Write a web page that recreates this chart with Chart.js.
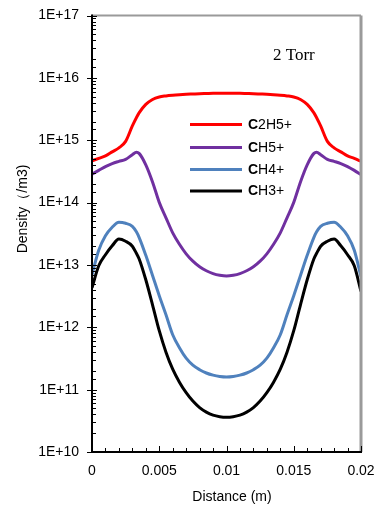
<!DOCTYPE html>
<html>
<head>
<meta charset="utf-8">
<script src="https://cdn.jsdelivr.net/npm/chart.js@4.4.1/dist/chart.umd.min.js"></script>
<style>
  html, body { margin: 0; padding: 0; background: #fff; }
  #wrap { width: 382px; height: 505px; position: relative; }
</style>
</head>
<body>
<div id="wrap"><canvas id="c"></canvas></div>
<script>
// ---- data ----
const distance = [0,0.0005,0.001,0.0015,0.002,0.0025,0.003,0.0033,0.0035,0.004,0.0045,0.005,0.0055,0.006,0.0065,0.007,0.0075,0.008,0.0085,0.009,0.0095,0.01,
  0.0105,0.011,0.0115,0.012,0.0125,0.013,0.0135,0.014,0.0145,0.015,0.0155,0.016,0.0165,0.0167,0.017,0.0175,0.018,0.0185,0.019,0.0195,0.02];

const c2h5 = [4.68e14,5.13e14,5.62e14,6.52e14,7.55e14,9.6e14,1.70e15,2.3e15,2.75e15,3.76e15,4.52e15,4.96e15,5.15e15,5.28e15,5.38e15,5.46e15,5.52e15,5.58e15,5.62e15,5.66e15,5.69e15,5.70e15,
  5.69e15,5.66e15,5.62e15,5.58e15,5.52e15,5.46e15,5.38e15,5.28e15,5.15e15,4.96e15,4.52e15,3.76e15,2.75e15,2.3e15,1.70e15,9.6e14,7.55e14,6.52e14,5.62e14,5.13e14,4.6e14];

const ch5 = [2.86e14,3.29e14,3.79e14,4.23e14,4.59e14,4.94e14,5.88e14,6.44e14,6.17e14,4.04e14,2.15e14,1.01e14,5.71e13,3.28e13,2.15e13,1.51e13,1.15e13,9.35e12,8.07e12,7.28e12,6.84e12,6.64e12,
  6.84e12,7.28e12,8.07e12,9.35e12,1.15e13,1.51e13,2.15e13,3.28e13,5.71e13,1.01e14,2.15e14,4.04e14,6.17e14,6.44e14,5.88e14,4.94e14,4.59e14,4.23e14,3.79e14,3.29e14,2.8e14];

const ch4 = [6.97e12,1.72e13,2.94e13,4.02e13,4.83e13,4.66e13,4.17e13,3.40e13,2.78e13,1.43e13,6.79e12,3.21e12,1.59e12,7.61e11,4.71e11,3.20e11,2.47e11,2.09e11,1.85e11,1.71e11,1.63e11,1.60e11,
  1.63e11,1.71e11,1.85e11,2.09e11,2.47e11,3.20e11,4.71e11,7.61e11,1.59e12,3.21e12,6.79e12,1.43e13,2.78e13,3.40e13,4.17e13,4.66e13,4.83e13,4.02e13,2.94e13,1.72e13,6.5e12];

const ch3 = [4.31e12,9.71e12,1.46e13,2.03e13,2.60e13,2.40e13,2.00e13,1.54e13,1.26e13,5.79e12,2.30e12,8.83e11,3.99e11,2.13e11,1.32e11,8.95e10,6.55e10,5.15e10,4.36e10,3.90e10,3.69e10,3.62e10,
  3.69e10,3.90e10,4.36e10,5.15e10,6.55e10,8.95e10,1.32e11,2.13e11,3.99e11,8.83e11,2.30e12,5.79e12,1.26e13,1.54e13,2.00e13,2.40e13,2.60e13,2.03e13,1.46e13,9.71e12,3.76e12];

const seriesNames = ['C2H5+', 'CH5+', 'CH4+', 'CH3+'];
const xTickLabels = ['0', '0.005', '0.01', '0.015', '0.02'];
const xTickValues = [0, 0.005, 0.01, 0.015, 0.02];
const xTitle = 'Distance (m)';
const yTitle = 'Density（/m3)';
const annotationText = '2 Torr';

// ---- styling ----
const colors = ['#FF0000', '#7030A0', '#4F81BD', '#000000'];
const FONT = "'Liberation Sans', Arial, sans-serif";

function pts(ys) { return distance.map((x, i) => ({ x: x, y: ys[i] })); }

const seriesValues = [c2h5, ch5, ch4, ch3];
const datasets = seriesValues.map((vals, i) => ({
  label: seriesNames[i],
  data: pts(vals),
  borderColor: colors[i],
  backgroundColor: colors[i],
  borderWidth: 3,
  pointRadius: 0,
  fill: false,
  cubicInterpolationMode: 'monotone'
}));

const decor = {
  id: 'decor',
  afterDatasetsDraw(chart) {
    const ctx = chart.ctx;
    const a = chart.chartArea;
    const xs = chart.scales.x, ys = chart.scales.y;
    ctx.save();
    // frame: top & right grey
    ctx.strokeStyle = '#9a9a9a';
    ctx.lineWidth = 2;
    ctx.beginPath();
    ctx.moveTo(a.left, a.top); ctx.lineTo(a.right, a.top);
    ctx.stroke();
    ctx.lineWidth = 3;
    ctx.beginPath();
    ctx.moveTo(a.right, a.top); ctx.lineTo(a.right, a.bottom);
    ctx.stroke();
    // left & bottom black
    ctx.strokeStyle = '#000';
    ctx.lineWidth = 2;
    ctx.beginPath();
    ctx.moveTo(a.left, a.top - 1); ctx.lineTo(a.left, a.bottom); ctx.lineTo(a.right + 1, a.bottom);
    ctx.stroke();
    // y ticks (library-generated log ticks)
    ctx.lineWidth = 1;
    ys.ticks.forEach(t => {
      const v = t.value;
      const lg = Math.log10(v);
      const major = Math.abs(lg - Math.round(lg)) < 1e-9;
      const y = Math.round(ys.getPixelForValue(v)) + 0.5;
      ctx.beginPath();
      if (major) { ctx.moveTo(a.left - 5, y); ctx.lineTo(a.left + 5, y); }
      else { ctx.moveTo(a.left, y); ctx.lineTo(a.left + 4, y); }
      ctx.stroke();
    });
    // x ticks
    for (let i = 0; i <= 20; i++) {
      const v = i * 0.001;
      const x = Math.round(xs.getPixelForValue(v)) + 0.5;
      const len = (i % 5 === 0) ? 6 : 4;
      ctx.beginPath();
      ctx.moveTo(x, a.bottom); ctx.lineTo(x, a.bottom - len);
      ctx.stroke();
    }
    // annotation
    ctx.fillStyle = '#000';
    ctx.font = "17px 'Liberation Serif', 'DejaVu Serif', serif";
    ctx.textAlign = 'left';
    ctx.textBaseline = 'middle';
    ctx.fillText(annotationText, 273, 56);
    // legend
    const rows = [124.5, 147.5, 169.5, 191];
    chart.data.datasets.forEach((ds, i) => {
      const y = rows[i];
      ctx.strokeStyle = ds.borderColor;
      ctx.lineWidth = 3;
      ctx.beginPath();
      ctx.moveTo(190, y); ctx.lineTo(242, y);
      ctx.stroke();
      const first = ds.label.charAt(0), rest = ds.label.slice(1);
      ctx.fillStyle = '#000';
      ctx.textBaseline = 'middle';
      ctx.font = 'bold 14px ' + FONT;
      ctx.fillText(first, 248, y + 0.5);
      const w = ctx.measureText(first).width;
      ctx.font = '14px ' + FONT;
      ctx.fillText(rest, 248 + w, y + 0.5);
    });
    // axis titles
    ctx.fillStyle = '#000';
    ctx.font = '14px ' + FONT;
    ctx.textAlign = 'center';
    ctx.textBaseline = 'middle';
    ctx.fillText(xTitle, 232, 497);
    ctx.save();
    ctx.translate(23, 209);
    ctx.rotate(-Math.PI / 2);
    ctx.fillText(yTitle, 0, 0);
    ctx.restore();
    ctx.restore();
  }
};

new Chart(document.getElementById('c'), {
  type: 'line',
  data: { datasets: datasets },
  options: {
    responsive: true,
    maintainAspectRatio: false,
    animation: false,
    layout: { padding: { top: 15.6, right: 21, left: 0, bottom: 0 } },
    plugins: { legend: { display: false }, tooltip: { enabled: false } },
    scales: {
      x: {
        type: 'linear',
        min: 0, max: 0.02,
        afterBuildTicks(scale) { scale.ticks = xTickValues.map(v => ({ value: v })); },
        afterFit(scale) {
          scale.height = 53;
          scale.paddingLeft = 0; scale.paddingRight = 0;
        },
        grid: { display: false, drawTicks: false },
        border: { display: false },
        ticks: {
          color: '#000',
          padding: 11,
          maxRotation: 0,
          autoSkip: false,
          font: { family: FONT, size: 14 },
          callback(v) {
            const idx = xTickValues.findIndex(t => Math.abs(t - v) < 1e-9);
            return idx >= 0 ? xTickLabels[idx] : '';
          }
        }
      },
      y: {
        type: 'logarithmic',
        min: 1e10, max: 1e17,
        afterFit(scale) {
          scale.width = 92;
          scale.paddingTop = 0; scale.paddingBottom = 0;
        },
        grid: { display: false, drawTicks: false },
        border: { display: false },
        ticks: {
          color: '#000',
          padding: 13,
          autoSkip: false,
          font: { family: FONT, size: 14 },
          callback(v) {
            const lg = Math.log10(v);
            if (Math.abs(lg - Math.round(lg)) < 1e-9) return '1E+' + Math.round(lg);
            return '';
          }
        }
      }
    }
  },
  plugins: [decor]
});
</script>
</body>
</html>
